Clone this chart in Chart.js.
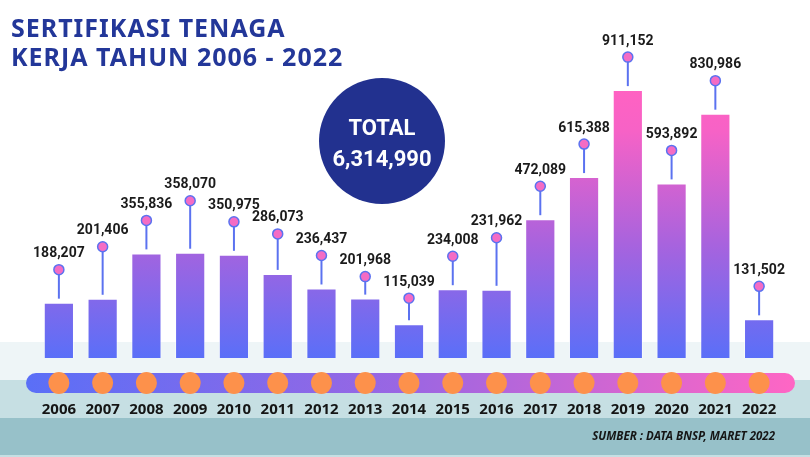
<!DOCTYPE html>
<html>
<head>
<meta charset="utf-8">
<script src="https://cdn.jsdelivr.net/npm/chart.js@4.4.1/dist/chart.umd.min.js"></script>
<style>
  html, body { margin: 0; padding: 0; background: #fff; }
  #wrap { width: 810px; height: 457px; position: relative; }
</style>
</head>
<body>
<div id="wrap"><canvas id="sertifikasiChart"></canvas></div>
<script>
const years = ['2006','2007','2008','2009','2010','2011','2012','2013','2014','2015','2016','2017','2018','2019','2020','2021','2022'];
const certified = [188207, 201406, 355836, 358070, 350975, 286073, 236437, 201968, 115039, 234008, 231962, 472089, 615388, 911152, 593892, 830986, 131502];
const totalCertified = 6314990;
const titleLines = ['SERTIFIKASI TENAGA', 'KERJA TAHUN 2006 - 2022'];
const sourceNote = 'SUMBER : DATA BNSP, MARET 2022';

// panjang tangkai lolipop (px) supaya label tidak bertumpuk
const stemLift = [33, 52, 33, 52, 33, 40, 33, 22, 26, 33, 52, 33, 33, 33, 33, 33, 33];

const fmt = (v) => v.toLocaleString('en-US');

// Latar: pita bawah, judul, lingkaran total
const backdrop = {
  id: 'backdrop',
  beforeDraw(chart) {
    const { ctx, width } = chart;
    ctx.save();
    ctx.fillStyle = '#eef5f7';
    ctx.fillRect(0, 342, width, 38);
    ctx.fillStyle = '#c6dfe3';
    ctx.fillRect(0, 380, width, 38);
    ctx.fillStyle = '#97c1c9';
    ctx.fillRect(0, 418, width, 37);
    ctx.fillStyle = '#c6dfe3';
    ctx.fillRect(0, 455, width, 2);

    ctx.fillStyle = '#233799';
    ctx.font = 'bold 25px "Noto Sans"';
    ctx.letterSpacing = '1px';
    ctx.textBaseline = 'middle';
    ctx.fillText(titleLines[0], 11, 29.5);
    ctx.fillText(titleLines[1], 11, 59);
    ctx.letterSpacing = '0px';

    ctx.beginPath();
    ctx.arc(382, 141, 63, 0, Math.PI * 2);
    ctx.fillStyle = '#22318f';
    ctx.fill();
    ctx.fillStyle = '#fff';
    ctx.textAlign = 'center';
    ctx.font = 'bold 22px Roboto';
    ctx.fillText('TOTAL', 382, 129);
    ctx.fillText(fmt(totalCertified), 382, 160);
    ctx.restore();
  }
};

// Lolipop + label nilai, garis waktu, tahun
const extras = {
  id: 'extras',
  afterDatasetsDraw(chart) {
    const { ctx } = chart;
    const meta = chart.getDatasetMeta(0);
    const xs = chart.scales.x;
    ctx.save();

    meta.data.forEach((bar, i) => {
      const dotY = bar.y - stemLift[i];
      ctx.strokeStyle = '#5b72f0';
      ctx.lineWidth = 2;
      ctx.beginPath();
      ctx.moveTo(bar.x, dotY);
      ctx.lineTo(bar.x, bar.y - 4);
      ctx.stroke();
      ctx.beginPath();
      ctx.arc(bar.x, dotY, 5, 0, Math.PI * 2);
      ctx.fillStyle = '#f46cc4';
      ctx.fill();
      ctx.lineWidth = 1.5;
      ctx.stroke();

      ctx.fillStyle = '#1b1b1b';
      ctx.font = 'bold 14px Roboto';
      ctx.textAlign = 'center';
      ctx.textBaseline = 'middle';
      ctx.fillText(fmt(certified[i]), bar.x, dotY - 16);
    });

    // garis waktu
    const g = ctx.createLinearGradient(26, 0, 795, 0);
    g.addColorStop(0, '#5a6ff7');
    g.addColorStop(0.5, '#9c66e2');
    g.addColorStop(1, '#ff66c4');
    ctx.fillStyle = g;
    ctx.beginPath();
    ctx.roundRect(26, 373, 769, 20, 10);
    ctx.fill();

    years.forEach((y, i) => {
      const x = xs.getPixelForValue(i);
      ctx.beginPath();
      ctx.ellipse(x, 383, 10.5, 11, 0, 0, Math.PI * 2);
      ctx.fillStyle = '#fd914b';
      ctx.fill();
      ctx.fillStyle = '#151515';
      ctx.font = 'bold 15px "Noto Sans"';
      ctx.textAlign = 'center';
      ctx.textBaseline = 'middle';
      ctx.fillText(y, x, 410);
    });

    ctx.fillStyle = '#151515';
    ctx.font = 'italic bold 11.5px "Noto Sans"';
    ctx.textAlign = 'right';
    ctx.fillText(sourceNote, 775, 437);
    ctx.restore();
  }
};

const barFill = (context) => {
  const area = context.chart.chartArea;
  if (!area) return '#6a6cf0';
  const g = context.chart.ctx.createLinearGradient(0, area.bottom, 0, 90);
  g.addColorStop(0, '#5a6ff8');
  g.addColorStop(0.42, '#a763de');
  g.addColorStop(0.85, '#f762c6');
  g.addColorStop(1, '#ff62c2');
  return g;
};

new Chart(document.getElementById('sertifikasiChart'), {
  type: 'bar',
  data: {
    labels: years,
    datasets: [{
      label: 'Sertifikasi',
      data: certified,
      backgroundColor: barFill,
      borderColor: 'rgba(255,255,255,0.5)',
      borderWidth: 1,
      barPercentage: 0.69,
      categoryPercentage: 1
    }]
  },
  options: {
    responsive: true,
    maintainAspectRatio: false,
    animation: false,
    layout: { padding: { left: 37, right: 29, top: 64, bottom: 99 } },
    plugins: { legend: { display: false }, tooltip: { enabled: false } },
    scales: {
      x: { display: false },
      y: { display: false, min: 0, max: 1000000 }
    }
  },
  plugins: [backdrop, extras]
});
</script>
</body>
</html>
